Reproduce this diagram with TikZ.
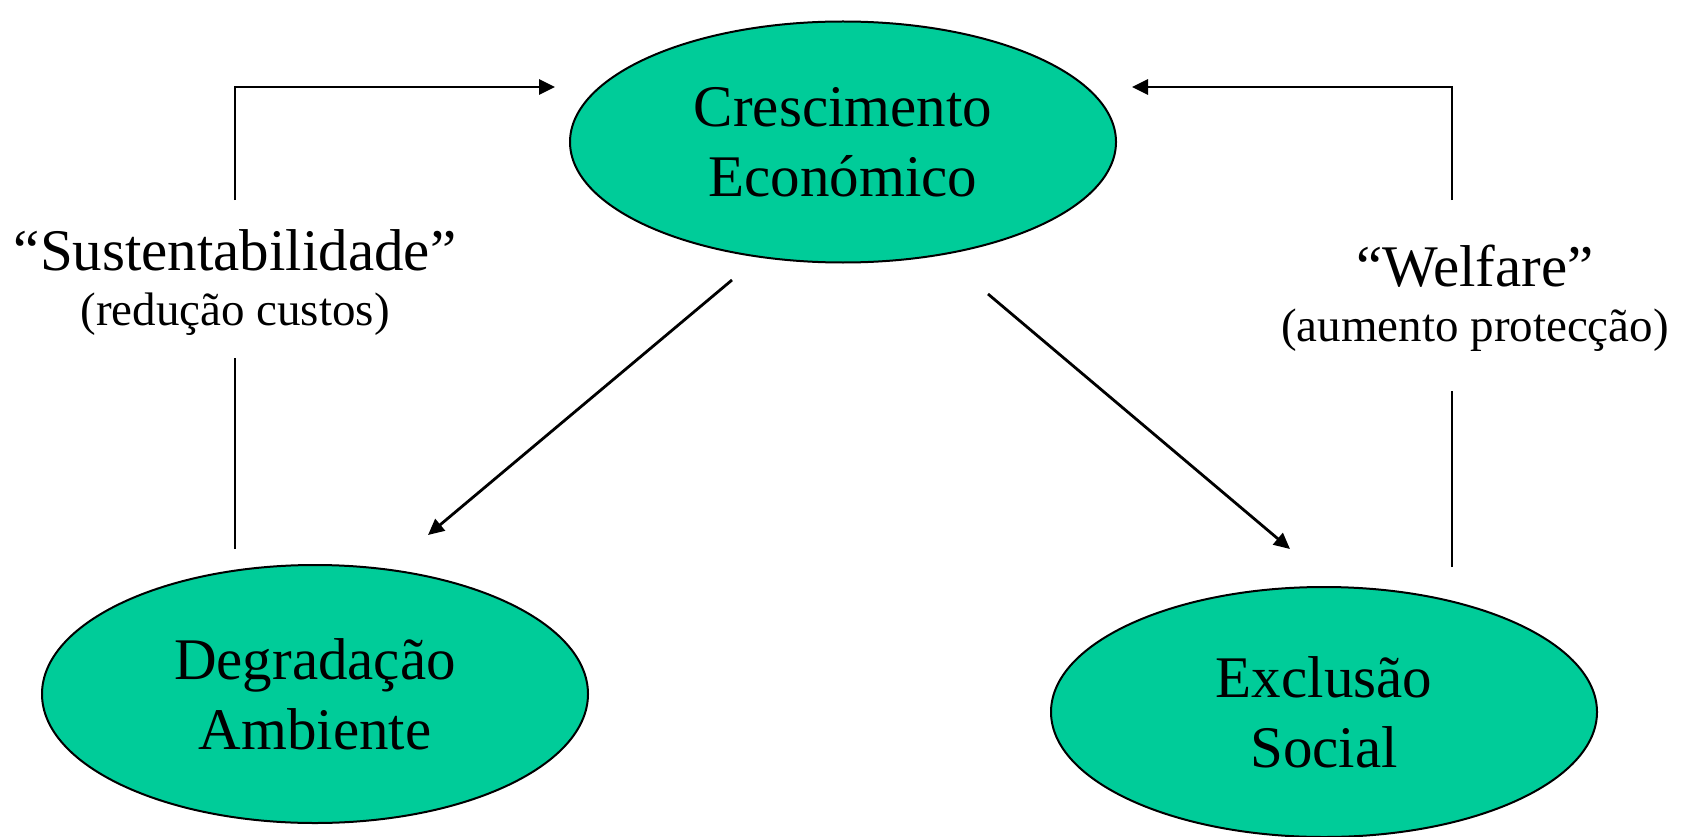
\documentclass[tikz,border=0pt]{standalone}
\usepackage{fontspec}
\setmainfont{Liberation Serif}
\usetikzlibrary{shapes.geometric,arrows.meta}
\definecolor{bubbleGreen}{RGB}{0,204,153}

\begin{document}
\begin{tikzpicture}[%
  x=1pt,y=-1pt,
  bubbleStyle/.style={ellipse,draw,line width=2,fill=bubbleGreen,
    minimum width=\bubbleWidth,minimum height=#1,inner sep=0pt,
    align=center,font=\fontsize{59}{70}\selectfont},
  labelStyle/.style={inner sep=0pt,font=\fontsize{59}{70}\selectfont},
  subLabelStyle/.style={inner sep=0pt,font=\fontsize{47}{56}\selectfont},
  lineStyle/.style={-,line width=2.8},
  arrowStyle/.style={lineStyle,-{Triangle[length=16,width=15]}}%
]
%
%
\pgfmathsetmacro{\bubbleWidth}{546}  % Width of each ellipse.
\pgfmathsetmacro{\leftX}{235}        % x of the left feedback line.
\pgfmathsetmacro{\rightX}{1452}      % x of the right feedback line.
\pgfmathsetmacro{\topY}{87}          % y of the two top arrows.
\useasboundingbox (0,0) rectangle (1688,837);
%
%
% The three ellipses.
\node[bubbleStyle=241] (cresc) at (843,142) {Crescimento\\Económico};
\node[bubbleStyle=258] (degrad) at (315,694) {Degradação\\Ambiente};
\node[bubbleStyle=250] (exclus) at (1324,712) {Exclusão\\Social};
%
% The two labels of the feedback lines.
\node[labelStyle] (sust) at (\leftX,250) {“Sustentabilidade”};
\node[subLabelStyle] (sustSub) at (\leftX,314) {(redução custos)};
\node[labelStyle] (welf) at (1475,266) {“Welfare”};
\node[subLabelStyle] (welfSub) at (1475,330) {(aumento protecção)};
%
% Free ends of the connectors.
\coordinate (sustLow) at (\leftX,549);
\coordinate (sustMid) at (\leftX,358);
\coordinate (sustHigh) at (\leftX,200);
\coordinate (crescIn) at (555,\topY);
\coordinate (welfLow) at (\rightX,567);
\coordinate (welfMid) at (\rightX,391);
\coordinate (welfHigh) at (\rightX,200);
\coordinate (crescInR) at (1132,\topY);
\coordinate (crescOutL) at (732,280);
\coordinate (degradIn) at (428,535);
\coordinate (crescOutR) at (988,294);
\coordinate (exclusIn) at (1290,549);
%
% Growth leads to degradation and exclusion.
\draw[arrowStyle] (crescOutL) -- (degradIn);
\draw[arrowStyle] (crescOutR) -- (exclusIn);
%
% Feedback back to growth.
\draw[lineStyle] (sustLow) -- (sustMid);
\draw[arrowStyle] (sustHigh) |- (crescIn);
\draw[lineStyle] (welfLow) -- (welfMid);
\draw[arrowStyle] (welfHigh) |- (crescInR);
\end{tikzpicture}
\end{document}
